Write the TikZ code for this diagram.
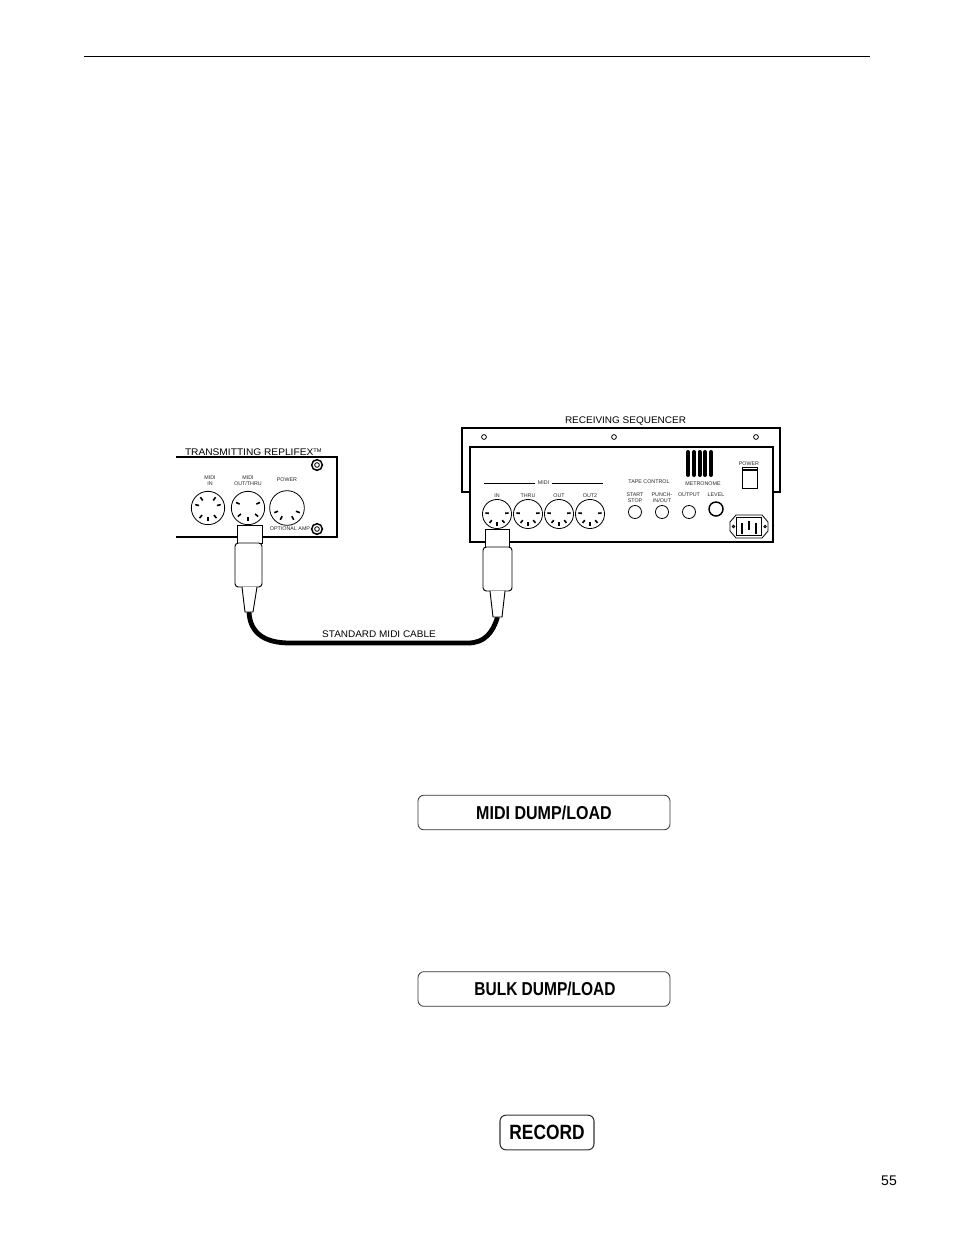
\documentclass[tikz,border=0pt]{standalone}
\usepackage{fontspec}
\setmainfont{Liberation Sans}
\usepackage{graphicx}
\newcommand{\tinyfont}{\fontsize{4}{4.4}\selectfont}
\newcommand{\dinpins}[4]{% x y r angles
  \foreach \a in {#4}{
    \draw[pinmark] ([shift={(\a:#3*0.56)}]#1,#2) -- ([shift={(\a:#3*0.80)}]#1,#2);
  }
}
\tikzset{
  x=0.75pt,y=-0.75pt,
  every node/.style={inner sep=0pt,outer sep=0pt},
  panel/.style={line width=0.8pt,black},
  jack/.style={circle,draw,line width=0.6pt,fill=white},
  pinmark/.style={line width=1.2pt,black},
  knob/.style={circle,draw,line width=0.6pt,minimum size=9.8pt},
  screw/.style={circle,draw,line width=1.1pt,minimum size=#1},
  hole/.style={circle,draw,line width=0.6pt,minimum size=3.6pt},
  tinylabel/.style={font=\tinyfont,align=center,text=black!85},
  capfont/.style={font=\fontsize{7.2}{8}\selectfont},
  softkey/.style={draw,rounded corners=4.5pt,line width=0.6pt,black!80,text=black},
  plugpart/.style={draw,line width=0.7pt,fill=white},
  cablewire/.style={line width=3.6pt,line cap=butt},
}
\begin{document}
\begin{tikzpicture}
\useasboundingbox (0,0) rectangle (954,1235);
% top rule and page number
\coordinate (ruleL) at (84,56);
\coordinate (ruleR) at (870,56);
\draw[line width=0.6pt] (ruleL) -- (ruleR);
\node (pageno) at (889,1180.5) {\fontsize{10.5}{12}\selectfont 55};

% transmitting unit
\draw[panel] (176,457) -- (337,457) -- (337,537) -- (176,537);
\node[capfont,anchor=west] (txtitle) at (185,452) {\scalebox{1.06}[1]{TRANSMITTING REPLIFEX\raisebox{2pt}{\fontsize{4}{4}\selectfont TM}}};
\node[jack,minimum size=25pt] (j1) at (208,508) {};
\node[jack,minimum size=25pt] (j2) at (248,508) {};
\node[jack,minimum size=26pt] (j3) at (287,508) {};
\dinpins{208}{508}{16.5}{90,50,130,-15,195,-55,235}
\dinpins{248}{508}{16.5}{90,40,140,-25,205}
\dinpins{287}{508}{17}{20,160,60,120}
\node[tinylabel] (l1) at (210,481) {MIDI\\IN};
\node[tinylabel] (l2) at (248,481) {MIDI\\OUT/THRU};
\node[tinylabel] (l3) at (287,480) {POWER};
\node[tinylabel,anchor=east] (l4) at (310,529) {OPTIONAL AMP};
\node[screw=8pt] (s1) at (317,465) {};
\node[hole,minimum size=3.5pt] at (s1) {};
\node[screw=8pt] (s2) at (317,529) {};
\node[hole,minimum size=3.5pt] at (s2) {};

% receiving unit
\draw[panel] (470,492) -- (462,492) -- (462,428) -- (780,428) -- (780,492) -- (773,492);
\draw[panel] (470,447) -- (773,447) -- (773,542) -- (470,542) -- cycle;
\node[capfont] (rxtitle) at (625.5,421.5) {\scalebox{1.04}[1]{RECEIVING SEQUENCER}};
\node[hole] (h1) at (484,437) {};
\node[hole] (h2) at (614,437) {};
\node[hole] (h3) at (756,437) {};
\node[tinylabel] (midi) at (543.5,483) {MIDI};
\coordinate (m1) at (484,483);
\coordinate (m2) at (603,483);
\draw[line width=0.6pt] (m1) -- ([xshift=-2pt]midi.west);
\draw[line width=0.6pt] ([xshift=2pt]midi.east) -- (m2);
\foreach \n/\x/\t in {ja/497/IN,jb/528/THRU,jc/559/OUT,jd/590/OUT2}{
  \node[jack,minimum size=21.8pt] (\n) at (\x,514) {};
  \node[tinylabel] at (\x,496) {\t};
  \dinpins{\x}{514}{14.5}{90,50,130,-5,185}
}
\node[tinylabel] at (649,482) {TAPE CONTROL};
\node[tinylabel] at (703,484) {METRONOME};
\node[tinylabel] at (635,498) {START\\STOP};
\node[tinylabel] at (662,498) {PUNCH-\\IN/OUT};
\node[tinylabel] at (689,495) {OUTPUT};
\node[tinylabel] at (716,495) {LEVEL};
\node[knob] (k1) at (635,512) {};
\node[knob] (k2) at (662,512) {};
\node[knob] (k3) at (689,512) {};
\node[screw=10.5pt] (k4) at (716,509) {};
\foreach \x in {688,694,699.5,705,711}{
  \draw[line width=3pt,line cap=round] (\x,452) -- (\x,475);
}
\node[tinylabel] (pw) at (749,464) {POWER};
\node[draw,line width=0.7pt,minimum width=11.2pt,minimum height=15.5pt] (sw) at (749.5,478) {};
\draw[line width=1pt] ([yshift=-1.7pt]sw.north west) -- ([yshift=-1.7pt]sw.north east);
\draw[line width=0.6pt] (730,522) -- (736,515) -- (762,515) -- (768,522) -- (768,531) -- (762,538) -- (736,538) -- (730,531) -- cycle;
\draw[line width=0.6pt] (736.5,517.5) rectangle (761.5,535.5);
\node[hole,minimum size=1.8pt] at (733.5,526.5) {};
\node[hole,minimum size=1.8pt] at (765,526.5) {};
\draw[line width=1.6pt] (742,523) -- (742,534);
\draw[line width=1.6pt] (749,521) -- (749,530);
\draw[line width=1.6pt] (756,523) -- (756,534);

% plugs and cable
\coordinate (tipA) at (249,612);
\coordinate (tipB) at (497.5,617);
\draw[cablewire] (tipA) .. controls (250,632) and (263,643) .. (290,643) -- (468,643) .. controls (485,643) and (493,632) .. (tipB);
\node[capfont,anchor=base] (cablelabel) at (379,637.5) {\scalebox{1.04}[1]{STANDARD MIDI CABLE}};

\draw[plugpart] (237,525) rectangle (262,543);
\draw[plugpart,rounded corners=2.5pt] (235,543) rectangle (262,587);
\draw[plugpart] (242,587) -- (245,612) -- (253,612) -- (257,587);
\draw[plugpart] (485,529) rectangle (509,547);
\draw[plugpart,rounded corners=2.5pt] (483,547) rectangle (512,591);
\draw[plugpart] (490,591) -- (493,617) -- (502,617) -- (505,591);

% soft keys
\node[softkey,minimum width=189pt,minimum height=26pt] (b1) at (544,812.5) {};
\node[font=\fontsize{14}{16}\bfseries] at (b1) {\scalebox{0.86}[1]{MIDI DUMP/LOAD}};
\node[softkey,minimum width=189pt,minimum height=26pt] (b2) at (544,989) {};
\node[font=\fontsize{14}{16}\bfseries] at (545,988.5) {\scalebox{0.83}[1]{BULK DUMP/LOAD}};
\node[softkey,minimum width=70.5pt,minimum height=26pt,line width=0.8pt] (b3) at (547,1132.5) {};
\node[font=\fontsize{15.5}{18}\bfseries] at (b3) {\scalebox{0.84}[1]{RECORD}};
\end{tikzpicture}
\end{document}
